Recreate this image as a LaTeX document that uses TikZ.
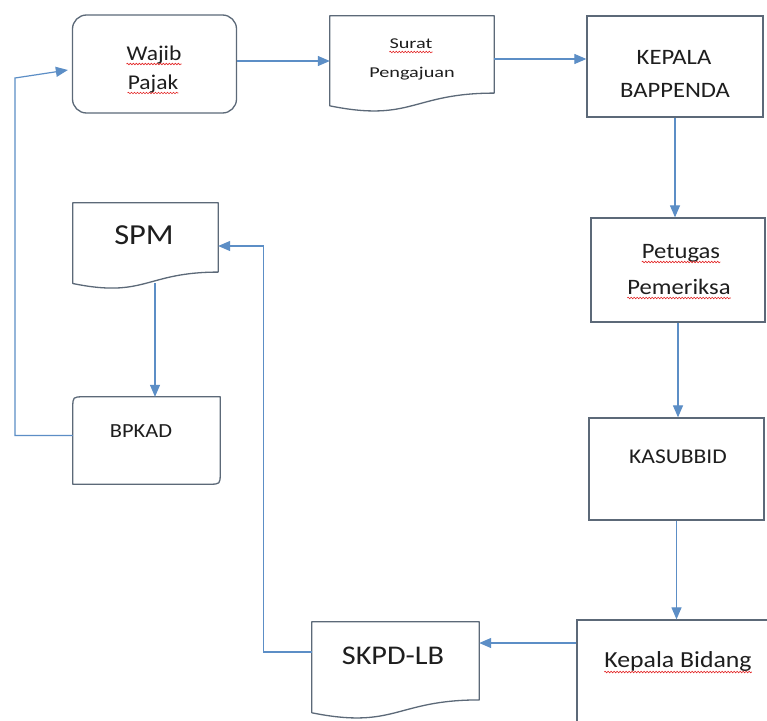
\documentclass[tikz,border=0pt]{standalone}
\usepackage{fontspec}
\setmainfont{Carlito}[FakeStretch=1.12]
\newfontfamily\widefont{Carlito}[FakeStretch=1.35]
\usetikzlibrary{arrows.meta,calc,decorations.pathmorphing}

\definecolor{linkblue}{RGB}{92,142,198}
\definecolor{boxedge}{RGB}{92,105,120}
\definecolor{spellred}{RGB}{228,40,40}
\definecolor{ink}{RGB}{30,30,30}

\tikzset{
  stepbox/.style={draw=boxedge, line width=1.3pt, rectangle, inner sep=0pt},
  shapeholder/.style={rectangle, inner sep=0pt},
  boxline/.style={draw=boxedge, line width=1.3pt, line join=round},
  lbl/.style={inner sep=0pt, anchor=base, text=ink},
  arr/.style={draw=linkblue, line width=1.2pt,
    -{Triangle[length=12pt,width=10pt]}, color=linkblue},
  squig/.style={draw=spellred, line width=0.6pt, decorate,
    decoration={snake, amplitude=0.8pt, segment length=3pt}},
}

% outline of a flowchart "document" symbol laid over a placeholder node
\newcommand\docoutline[1]{%
  \draw[boxline, fill=white] (#1.north west) -- (#1.north east)
    -- ($(#1.north east)!0.802!(#1.south east)$)
    .. controls ($(#1.north)!0.802!(#1.south)$) and ($(#1.north)!1.107!(#1.south)$)
    .. ($(#1.north west)!0.934!(#1.south west)$) -- cycle;}

% red wavy line under a word
\newcommand\spellmark[1]{%
  \draw[squig] ([yshift=-4pt]#1.base west) -- ([yshift=-4pt]#1.base east);}

\begin{document}
\begin{tikzpicture}[x=1pt, y=-1pt]
\useasboundingbox (0,0) rectangle (767,720);
\clip (0,0) rectangle (767,720);
\fill[white] (0,0) rectangle (767,720);

% ---- boxes ----
\node[stepbox, rounded corners=14pt, minimum width=164pt, minimum height=98pt] (wajib) at (154.5,64) {};
\node[shapeholder, minimum width=164pt, minimum height=96pt] (surat) at (412,64) {};
\docoutline{surat}
\node[stepbox, minimum width=176pt, minimum height=101pt] (kepala) at (675,66.5) {};
\node[stepbox, minimum width=174pt, minimum height=104pt] (petugas) at (678,270) {};
\node[stepbox, minimum width=175pt, minimum height=102pt] (kasubbid) at (676.5,469) {};
\node[stepbox, minimum width=200pt, minimum height=110pt] (kepbid) at (677,675) {};
\node[shapeholder, minimum width=167pt, minimum height=97pt] (skpd) at (395.5,670.5) {};
\docoutline{skpd}
\node[shapeholder, minimum width=145pt, minimum height=86pt] (spm) at (145.5,246) {};
\docoutline{spm}
\node[shapeholder, minimum width=147pt, minimum height=87pt] (bpkad) at (146.5,440.5) {};
% rectangle with its top-left and bottom-right corners rounded
\draw[boxline] ($(bpkad.north west)+(0,11)$) .. controls (bpkad.north west) .. ($(bpkad.north west)+(11,0)$)
  -- (bpkad.north east) -- ($(bpkad.south east)+(0,-11)$)
  .. controls (bpkad.south east) .. ($(bpkad.south east)+(-11,0)$)
  -- (bpkad.south west) -- cycle;

% ---- texts ----
\node[lbl, font=\fontsize{21}{25}\selectfont] (t-wajib) at (154,60) {Wajib};
\node[lbl, font=\fontsize{21}{25}\selectfont] (t-pajak) at (153,89) {Pajak};
\spellmark{t-wajib}
\spellmark{t-pajak}
\node[lbl, font=\widefont\fontsize{15}{18}\selectfont] (t-surat) at (411,48) {Surat};
\node[lbl, font=\widefont\fontsize{15}{18}\selectfont] (t-pengajuan) at (412,77) {Pengajuan};
\spellmark{t-surat}
\node[lbl, font=\fontsize{22}{26}\selectfont] (t-kepala) at (674,64) {KEPALA};
\node[lbl, font=\fontsize{22}{26}\selectfont] (t-bappenda) at (675,97) {BAPPENDA};
\node[lbl, font=\fontsize{22}{26}\selectfont] (t-petugas) at (681,258) {Petugas};
\node[lbl, font=\fontsize{22}{26}\selectfont] (t-pemeriksa) at (679,294) {Pemeriksa};
\spellmark{t-petugas}
\spellmark{t-pemeriksa}
\node[lbl, font=\fontsize{21}{25}\selectfont] (t-kasubbid) at (678,463) {KASUBBID};
\node[lbl, font=\fontsize{23}{27}\selectfont] (t-kepbid) at (678,667) {Kepala Bidang};
\draw[squig] ([yshift=-5pt]t-kepbid.base west) -- ([yshift=-5pt]t-kepbid.base east);
\node[lbl, font=\fontsize{27}{32}\selectfont] (t-skpd) at (393,664) {SKPD-LB};
\node[lbl, font=\fontsize{29}{34}\selectfont] (t-spm) at (144,244) {SPM};
\node[lbl, font=\fontsize{20}{24}\selectfont] (t-bpkad) at (141,437) {BPKAD};

% ---- connectors ----
\draw[arr] ([yshift=3pt]wajib.east) -- ([yshift=3pt]surat.west);
\coordinate (surat-out) at ([yshift=5pt]surat.east);
\draw[arr] (surat-out) -- (surat-out -| kepala.west);
\draw[arr] (kepala.south) -- (kepala.south |- petugas.north);
\draw[arr] (petugas.south) -- (petugas.south |- kasubbid.north);
\draw[arr] (kasubbid.south) -- (kasubbid.south |- kepbid.north);
\coordinate (kepbid-out) at ([yshift=32pt]kepbid.west);
\draw[arr] (kepbid-out) -- (kepbid-out -| skpd.east);
\coordinate (skpd-out) at ([yshift=18.5pt]skpd.west);
\path (spm.east) ++(45,0) coordinate (rise-right);
\draw[arr] (skpd-out) -| (rise-right) -- (spm.east);
\coordinate (spm-out) at ($(spm.north)!0.933!(spm.south)+(9.5,0)$);
\draw[arr] (spm-out) -- (spm-out |- bpkad.north);
\coordinate (bpkad-out) at ([yshift=5pt]bpkad.west);
\coordinate (rise-left) at (15,78);
\coordinate (wajib-in) at ([yshift=-6pt,xshift=-4pt]wajib.west);
\draw[arr] (bpkad-out) -| (rise-left) -- (wajib-in);
\end{tikzpicture}
\end{document}
